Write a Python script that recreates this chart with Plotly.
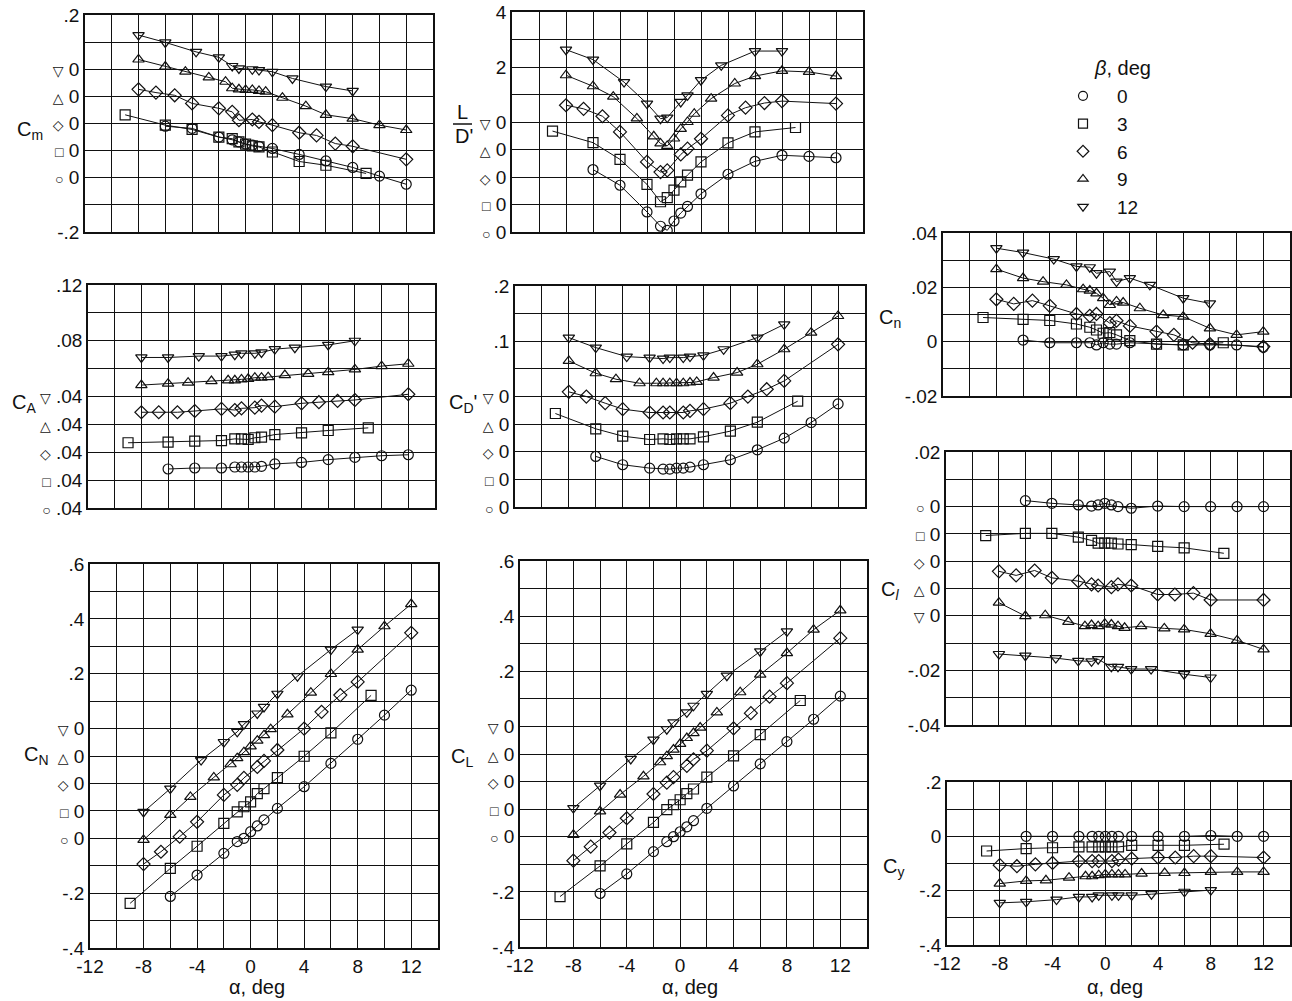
import plotly.graph_objects as go

W, H = 1292, 1001

# ---------------- data (angle of attack per sideslip angle) ----------------
BETA_LABELS = ["0", "3", "6", "9", "12"]
ALPHA_0 = [-6, -4, -2, -1, -0.5, 0, 0.5, 1, 2, 4, 6, 8, 10, 12]
ALPHA_3 = [-9, -6, -4, -2, -1, -0.5, 0, 0.5, 1, 2, 4, 6, 9]
ALPHA_6 = [-8, -6.7, -5.3, -4, -2, -1, -0.5, 0.5, 1, 2, 4, 5.3, 6.7, 8, 12]
ALPHA_9 = [-8, -6, -4.5, -2.75, -1.5, -1, -0.5, 0, 0.5, 1, 1.5, 2.75, 4.5, 6, 8, 10, 12]
ALPHA_12 = [-8, -6, -3.7, -2, -1, -0.5, 0.5, 1, 2, 3.5, 6, 8]

# pitching moment Cm
CM_0 = [0.095, 0.091, 0.075, 0.070, 0.066, 0.062, 0.060, 0.058, 0.054, 0.043, 0.031, 0.019, 0.003, -0.012]
CM_3 = [0.066, 0.047, 0.039, 0.025, 0.022, 0.016, 0.012, 0.0086, 0.0068, -0.0025, -0.020, -0.027, -0.042]
CM_6 = [0.063, 0.057, 0.052, 0.037, 0.028, 0.0215, 0.006, 0.0074, 0.003, -0.003, -0.017, -0.022, -0.037, -0.042, -0.066]
CM_9 = [0.068, 0.055, 0.0455, 0.035, 0.027, 0.015, 0.013, 0.012, 0.012, 0.010, 0.0086, -0.0025, -0.018, -0.034, -0.041, -0.053, -0.062]
CM_12 = [0.063, 0.0495, 0.032, 0.022, 0.006, 0.0015, 0.0, -0.0015, -0.0046, -0.017, -0.032, -0.040]

# lift-drag ratio L/D'
LD_0 = [2.27, 1.70, 0.73, 0.21, 0.06, 0.40, 0.69, 0.93, 1.39, 2.10, 2.57, 2.79, 2.75, 2.70]
LD_3 = [2.67, 2.25, 1.64, 0.73, 0.10, 0.25, 0.52, 0.82, 1.07, 1.55, 2.24, 2.64, 2.80]
LD_6 = [2.61, 2.48, 2.21, 1.64, 0.55, 0.18, 0.24, 0.82, 1.03, 1.39, 2.24, 2.52, 2.69, 2.76, 2.67]
LD_9 = [2.70, 2.30, 1.92, 1.13, 0.48, 0.22, 0.13, 0.40, 0.75, 1.00, 1.30, 1.85, 2.40, 2.67, 2.86, 2.82, 2.67]
LD_12 = [2.63, 2.27, 1.45, 0.67, 0.12, 0.16, 0.73, 0.97, 1.52, 2.06, 2.58, 2.58]

# axial force CA
CA_0 = [0.0680, 0.0687, 0.0687, 0.0694, 0.0694, 0.0694, 0.0694, 0.0699, 0.0716, 0.0727, 0.0747, 0.0763, 0.0775, 0.0782]
CA_3 = [0.0668, 0.0673, 0.0680, 0.0684, 0.0696, 0.0696, 0.0692, 0.0704, 0.0708, 0.0727, 0.0739, 0.0756, 0.0775]
CA_6 = [0.0687, 0.0687, 0.0687, 0.0696, 0.0711, 0.0703, 0.0715, 0.0720, 0.0735, 0.0727, 0.0751, 0.0759, 0.0768, 0.0775, 0.0816]
CA_9 = [0.0682, 0.0692, 0.0699, 0.0711, 0.0716, 0.0716, 0.0723, 0.0727, 0.0735, 0.0735, 0.0739, 0.0754, 0.0763, 0.0775, 0.0794, 0.0818, 0.0835]
CA_12 = [0.068, 0.068, 0.069, 0.069, 0.070, 0.071, 0.071, 0.0716, 0.074, 0.075, 0.077, 0.080]

# drag CD'
CD_0 = [0.0915, 0.0765, 0.0704, 0.0686, 0.0686, 0.0704, 0.0704, 0.0722, 0.0765, 0.0855, 0.1035, 0.1246, 0.1529, 0.1866]
CD_3 = [0.1192, 0.0915, 0.0783, 0.0722, 0.0734, 0.0722, 0.0734, 0.0734, 0.0734, 0.0771, 0.0873, 0.1035, 0.1415]
CD_6 = [0.1084, 0.0999, 0.0879, 0.0771, 0.0710, 0.0710, 0.0710, 0.0710, 0.0740, 0.0771, 0.0879, 0.0999, 0.1132, 0.1282, 0.1944]
CD_9 = [0.1144, 0.0921, 0.0813, 0.0740, 0.0740, 0.0740, 0.0740, 0.0740, 0.0740, 0.0753, 0.0765, 0.0843, 0.0933, 0.1084, 0.1355, 0.1656, 0.1957]
CD_12 = [0.1066, 0.0885, 0.0722, 0.0704, 0.0686, 0.0704, 0.0704, 0.0722, 0.0746, 0.0855, 0.1066, 0.1306]

# yawing moment Cn
CNY_0 = [0.0006, -0.0004, -0.0004, -0.0004, -0.0012, -0.0004, -0.0009, -0.0009, -0.0004, -0.0009, -0.0012, -0.0012, -0.0012, -0.0021]
CNY_3 = [0.0089, 0.0082, 0.0078, 0.0065, 0.0053, 0.0043, 0.0031, 0.0033, 0.0025, 0.0004, -0.0009, -0.0012, -0.0004]
CNY_6 = [0.0156, 0.0139, 0.0151, 0.0132, 0.0102, 0.0095, 0.0102, 0.0068, 0.0077, 0.0058, 0.0037, 0.0025, -0.0004, -0.0009, -0.0018]
CNY_9 = [0.0267, 0.0234, 0.0221, 0.0209, 0.0193, 0.0188, 0.0178, 0.0160, 0.0135, 0.0148, 0.0144, 0.0123, 0.0098, 0.0092, 0.0049, 0.0025, 0.0037]
CNY_12 = [0.0344, 0.0328, 0.0304, 0.0277, 0.0274, 0.0252, 0.0258, 0.0221, 0.0234, 0.0209, 0.0160, 0.0141]

# rolling moment Cl
CLR_0 = [0.0022, 0.0012, 0.0006, 0.0002, 0.0006, 0.0012, 0.0006, 0.0, -0.0006, 0.0002, 0.0, 0.0, 0.0, 0.0]
CLR_3 = [-0.0006, 0.0002, 0.0002, -0.0012, -0.0024, -0.0034, -0.0034, -0.0034, -0.0037, -0.0039, -0.0046, -0.0051, -0.0071]
CLR_6 = [-0.0037, -0.0052, -0.0034, -0.0061, -0.0073, -0.0085, -0.0089, -0.0095, -0.0085, -0.0089, -0.0122, -0.0122, -0.0117, -0.0142, -0.0142]
CLR_9 = [-0.0052, -0.0101, -0.0098, -0.0122, -0.0138, -0.0134, -0.0138, -0.0129, -0.0132, -0.0138, -0.0144, -0.0138, -0.0146, -0.0150, -0.0166, -0.0190, -0.0223]
CLR_12 = [-0.0140, -0.0146, -0.0155, -0.0165, -0.0167, -0.0159, -0.0187, -0.0187, -0.0195, -0.0195, -0.0214, -0.0226]

# side force Cy
CY_0 = [0.0, 0.0, 0.0, 0.0, 0.0, 0.0, 0.0, 0.0, 0.0, 0.0, 0.0, 0.003, 0.0, 0.0]
CY_3 = [-0.054, -0.045, -0.042, -0.039, -0.039, -0.039, -0.039, -0.039, -0.039, -0.033, -0.033, -0.033, -0.029]
CY_6 = [-0.106, -0.110, -0.103, -0.098, -0.091, -0.091, -0.091, -0.091, -0.086, -0.082, -0.078, -0.078, -0.073, -0.073, -0.078]
CY_9 = [-0.174, -0.164, -0.162, -0.152, -0.147, -0.147, -0.143, -0.140, -0.140, -0.140, -0.140, -0.137, -0.135, -0.135, -0.131, -0.131, -0.131]
CY_12 = [-0.245, -0.241, -0.233, -0.223, -0.223, -0.217, -0.217, -0.217, -0.217, -0.213, -0.204, -0.198]

# normal force CN
CN_0 = [-0.212, -0.134, -0.055, -0.012, 0.0, 0.024, 0.045, 0.067, 0.109, 0.188, 0.273, 0.361, 0.449, 0.540]
CN_3 = [-0.337, -0.210, -0.129, -0.046, -0.004, 0.015, 0.033, 0.063, 0.081, 0.121, 0.199, 0.284, 0.421]
CN_6 = [-0.294, -0.249, -0.194, -0.140, -0.042, -0.005, 0.020, 0.060, 0.082, 0.122, 0.200, 0.261, 0.322, 0.370, 0.549]
CN_9 = [-0.306, -0.215, -0.149, -0.078, -0.030, -0.008, 0.014, 0.035, 0.056, 0.076, 0.098, 0.152, 0.231, 0.299, 0.388, 0.473, 0.554]
CN_12 = [-0.304, -0.219, -0.115, -0.049, -0.012, 0.016, 0.055, 0.079, 0.127, 0.191, 0.288, 0.361]

# lift CL
CL_0 = [-0.206, -0.135, -0.054, -0.018, 0.0, 0.018, 0.036, 0.058, 0.103, 0.184, 0.264, 0.345, 0.426, 0.510]
CL_3 = [-0.317, -0.206, -0.126, -0.048, -0.002, 0.016, 0.034, 0.056, 0.073, 0.116, 0.193, 0.270, 0.394]
CL_6 = [-0.287, -0.236, -0.185, -0.133, -0.045, -0.004, 0.016, 0.057, 0.081, 0.112, 0.193, 0.248, 0.308, 0.357, 0.520]
CL_9 = [-0.293, -0.208, -0.147, -0.081, -0.030, -0.008, 0.016, 0.037, 0.058, 0.076, 0.096, 0.151, 0.224, 0.288, 0.366, 0.451, 0.521]
CL_12 = [-0.296, -0.215, -0.118, -0.048, -0.010, 0.015, 0.051, 0.075, 0.118, 0.184, 0.272, 0.345]

X_GRID = [-12, -10, -8, -6, -4, -2, 0, 2, 4, 6, 8, 10, 12, 14]
X_TICKS = [-12, -8, -4, 0, 4, 8, 12]
X_TICK_TEXT = ["-12", "-8", "-4", "0", "4", "8", "12"]

# ---------------- styling ----------------
ALPHAS = [ALPHA_0, ALPHA_3, ALPHA_6, ALPHA_9, ALPHA_12]
SYMBOLS = ["circle-open", "square-open", "diamond-open", "triangle-up-open", "triangle-down-open"]
GLYPHS = ["○", "□", "◇", "△", "▽"]
FONT = "Liberation Sans, Arial, DejaVu Sans, sans-serif"
INK = "#111111"


def sl(i, txt):
    return f"<span style='font-size:14px'>{GLYPHS[i]}</span> {txt}"


def grid(lo, hi, step):
    n = int(round((hi - lo) / step))
    return [round(lo + j * step, 6) for j in range(n + 1)]


PANELS = [
    dict(series=[CM_0, CM_3, CM_6, CM_9, CM_12], offsets=[-0.1, -0.05, 0, 0.05, 0.1],
         yrange=[-0.2, 0.2], ystep=0.05, box=(85, 433, 15, 232), xlab=False,
         yt=[(0.2, ".2"), (0.1, sl(4, "0")), (0.05, sl(3, "0")), (0.0, sl(2, "0")),
             (-0.05, sl(1, "0")), (-0.1, sl(0, "0")), (-0.2, "-.2")]),
    dict(series=[LD_0, LD_3, LD_6, LD_9, LD_12], offsets=[-4, -3, -2, -1, 0],
         yrange=[-4, 4], ystep=1, box=(512, 863, 12, 232), xlab=False,
         yt=[(4, "4"), (2, "2"), (0, sl(4, "0")), (-1, sl(3, "0")),
             (-2, sl(2, "0")), (-3, sl(1, "0")), (-4, sl(0, "0"))]),
    dict(series=[CA_0, CA_3, CA_6, CA_9, CA_12], offsets=[-0.08, -0.06, -0.04, -0.02, 0],
         yrange=[-0.04, 0.12], ystep=0.02, box=(88, 435, 285, 508), xlab=False,
         yt=[(0.12, ".12"), (0.08, ".08"), (0.04, sl(4, ".04")),
             (0.02, sl(3, ".04")), (0.0, sl(2, ".04")), (-0.02, sl(1, ".04")), (-0.04, sl(0, ".04"))]),
    dict(series=[CD_0, CD_3, CD_6, CD_9, CD_12], offsets=[-0.2, -0.15, -0.1, -0.05, 0],
         yrange=[-0.2, 0.2], ystep=0.05, box=(515, 865, 286, 507), xlab=False,
         yt=[(0.2, ".2"), (0.1, ".1"), (0.0, sl(4, "0")),
             (-0.05, sl(3, "0")), (-0.1, sl(2, "0")), (-0.15, sl(1, "0")), (-0.2, sl(0, "0"))]),
    dict(series=[CNY_0, CNY_3, CNY_6, CNY_9, CNY_12], offsets=[0, 0, 0, 0, 0],
         yrange=[-0.02, 0.04], ystep=0.01, box=(943, 1290, 233, 396), xlab=False,
         yt=[(0.04, ".04"), (0.02, ".02"), (0.0, "0"), (-0.02, "-.02")]),
    dict(series=[CLR_0, CLR_3, CLR_6, CLR_9, CLR_12], offsets=[0, -0.01, -0.02, -0.03, -0.04],
         yrange=[-0.08, 0.02], ystep=0.01, box=(946, 1290, 452, 725), xlab=False,
         yt=[(0.02, ".02"), (0.0, sl(0, "0")), (-0.01, sl(1, "0")), (-0.02, sl(2, "0")),
             (-0.03, sl(3, "0")), (-0.04, sl(4, "0")), (-0.06, "-.02"), (-0.08, "-.04")]),
    dict(series=[CY_0, CY_3, CY_6, CY_9, CY_12], offsets=[0, 0, 0, 0, 0],
         yrange=[-0.4, 0.2], ystep=0.1, box=(947, 1290, 782, 945), xlab=True,
         yt=[(0.2, ".2"), (0.0, "0"), (-0.2, "-.2"), (-0.4, "-.4")]),
    dict(series=[CN_0, CN_3, CN_6, CN_9, CN_12], offsets=[-0.4, -0.3, -0.2, -0.1, 0],
         yrange=[-0.8, 0.6], ystep=0.1, box=(90, 438, 564, 948), xlab=True,
         yt=[(0.6, ".6"), (0.4, ".4"), (0.2, ".2"), (0.0, sl(4, "0")),
             (-0.1, sl(3, "0")), (-0.2, sl(2, "0")), (-0.3, sl(1, "0")), (-0.4, sl(0, "0")),
             (-0.6, "-.2"), (-0.8, "-.4")]),
    dict(series=[CL_0, CL_3, CL_6, CL_9, CL_12], offsets=[-0.4, -0.3, -0.2, -0.1, 0],
         yrange=[-0.8, 0.6], ystep=0.1, box=(520, 867, 561, 947), xlab=True,
         yt=[(0.6, ".6"), (0.4, ".4"), (0.2, ".2"), (0.0, sl(4, "0")),
             (-0.1, sl(3, "0")), (-0.2, sl(2, "0")), (-0.3, sl(1, "0")), (-0.4, sl(0, "0")),
             (-0.6, "-.2"), (-0.8, "-.4")]),
]

GRIDSTYLE = dict(showgrid=True, gridcolor=INK, gridwidth=1)
fig = go.Figure()
layout = {}
for k, p in enumerate(PANELS):
    n = k + 1
    sx = "" if n == 1 else str(n)
    x0, x1, y0, y1 = p["box"]
    for i, vals in enumerate(p["series"]):
        fig.add_trace(go.Scatter(
            x=ALPHAS[i], y=[v + p["offsets"][i] for v in vals],
            mode="lines+markers", xaxis="x" + sx, yaxis="y" + sx,
            line=dict(color=INK, width=1),
            marker=dict(symbol=SYMBOLS[i], size=10, color=INK, line=dict(width=1.2, color=INK)),
            showlegend=False, hoverinfo="skip"))
    if p["xlab"]:
        xt = dict(tickvals=X_TICKS, ticktext=X_TICK_TEXT, showticklabels=True)
    else:
        xt = dict(tickvals=X_GRID, showticklabels=False)
    layout["xaxis" + sx] = dict(
        domain=[x0 / W, x1 / W], anchor="y" + sx, range=[-12, 14], tickmode="array", **xt,
        minor=dict(tickmode="array", tickvals=X_GRID, ticks="", **GRIDSTYLE), **GRIDSTYLE,
        showline=True, linecolor=INK, linewidth=1.5, mirror=True, zeroline=False,
        ticks="", tickfont=dict(size=19, family=FONT, color=INK), automargin=False)
    layout["yaxis" + sx] = dict(
        domain=[1 - y1 / H, 1 - y0 / H], anchor="x" + sx, range=p["yrange"],
        tickmode="array", tickvals=[t[0] for t in p["yt"]], ticktext=[t[1] for t in p["yt"]],
        minor=dict(tickmode="array", tickvals=grid(p["yrange"][0], p["yrange"][1], p["ystep"]),
                   ticks="", **GRIDSTYLE), **GRIDSTYLE,
        showline=True, linecolor=INK, linewidth=1.5, mirror=True, zeroline=False,
        ticks="", tickfont=dict(size=19, family=FONT, color=INK), automargin=False)

# legend-only entries
for i in range(5):
    fig.add_trace(go.Scatter(
        x=[None], y=[None], mode="markers", name=BETA_LABELS[i],
        marker=dict(symbol=SYMBOLS[i], size=9, color=INK, line=dict(width=1.2, color=INK)),
        showlegend=True))

TITLES = [
    ("C<sub>m</sub>", 30, 130), ("C<sub>A</sub>", 24, 403), ("C<sub>N</sub>", 36, 755),
    ("C<sub>D</sub>'", 463, 403), ("C<sub>L</sub>", 462, 757),
    ("C<sub>n</sub>", 890, 318), ("C<sub><i>l</i></sub>", 890, 590), ("C<sub>y</sub>", 893, 867),
    ("L", 463, 112), ("D'", 464, 136),
    ("α, deg", 257, 987), ("α, deg", 690, 987), ("α, deg", 1115, 987),
    ("<i>β</i>, deg", 1122, 68),
]
annotations = []
for txt, xp, yp in TITLES:
    annotations.append(dict(text=txt, x=xp / W, y=1 - yp / H, xref="paper", yref="paper",
                            showarrow=False, xanchor="center", yanchor="middle",
                            font=dict(size=20, family=FONT, color=INK)))

shapes = [dict(type="line", xref="paper", yref="paper", x0=453 / W, x1=472 / W,
               y0=1 - 124 / H, y1=1 - 124 / H, line=dict(color=INK, width=1.5))]

fig.update_layout(
    width=W, height=H, margin=dict(l=0, r=0, t=0, b=0, pad=0, autoexpand=False),
    paper_bgcolor="white", plot_bgcolor="white",
    font=dict(family=FONT, color=INK, size=18),
    annotations=annotations, shapes=shapes,
    legend=dict(x=1049 / W, y=1 - 77 / H, xanchor="left", yanchor="top",
                bgcolor="rgba(0,0,0,0)", font=dict(size=19, family=FONT, color=INK),
                itemwidth=58, tracegroupgap=0),
    **layout)

fig.write_html("out.html", config={"displayModeBar": False},
               post_script="document.body.style.margin='0';")
